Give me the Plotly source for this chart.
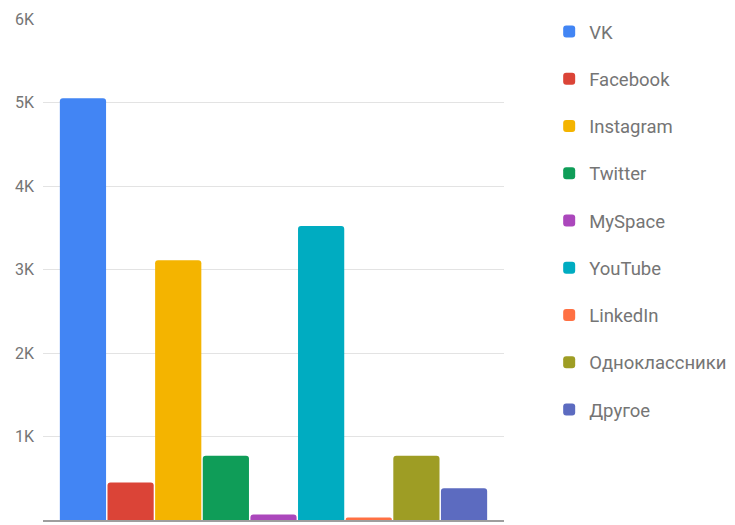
import plotly.graph_objects as go

categories = [""]
series_names = ["VK", "Facebook", "Instagram", "Twitter", "MySpace", "YouTube",
                "LinkedIn", "Одноклассники", "Другое"]
series_values = [5050, 450, 3110, 770, 65, 3520, 30, 770, 380]
series_colors = ["#4285F4", "#DB4437", "#F4B400", "#0F9D58", "#AB47BC",
                 "#00ACC1", "#FF7043", "#9E9D24", "#5C6BC0"]
tick_vals = [0, 1000, 2000, 3000, 4000, 5000, 6000]
tick_text = ["0", "1K", "2K", "3K", "4K", "5K", "6K"]

fig = go.Figure()
for i, (name, val, col) in enumerate(zip(series_names, series_values, series_colors)):
    fig.add_trace(go.Bar(
        x=categories, y=[val], name=name,
        marker=dict(color=col, line=dict(width=0), cornerradius=3),
        legendgroup=name,
        hoverinfo="name+y",
    ))

fig.update_layout(
    width=727, height=517,
    barmode="group",
    bargap=0.07,
    bargroupgap=0.03,
    plot_bgcolor="white",
    paper_bgcolor="white",
    margin=dict(l=35, r=231, t=11, b=5, autoexpand=False),
    font=dict(family="Roboto", color="#757575"),
    showlegend=True,
    legend=dict(
        x=1.098, xanchor="left", y=1.012, yanchor="top",
        font=dict(family="Roboto", size=18.5, color="#757575"),
        tracegroupgap=20.2,
        bgcolor="rgba(0,0,0,0)",
        maxheight=517,
    ),
    xaxis=dict(
        showticklabels=False, showgrid=False, zeroline=False,
        showline=True, linecolor="#9e9e9e", linewidth=1.5,
        range=[-0.5, 0.5], fixedrange=True,
    ),
    yaxis=dict(
        range=[0, 6000], tickvals=tick_vals, ticktext=tick_text,
        showgrid=True, gridcolor="#e3e3e3", gridwidth=1,
        zeroline=False, showline=False,
        tickfont=dict(family="Roboto", size=16, color="#757575"),
        ticks="", ticklabelstandoff=8,
    ),
)

fig.write_html("out.html")
